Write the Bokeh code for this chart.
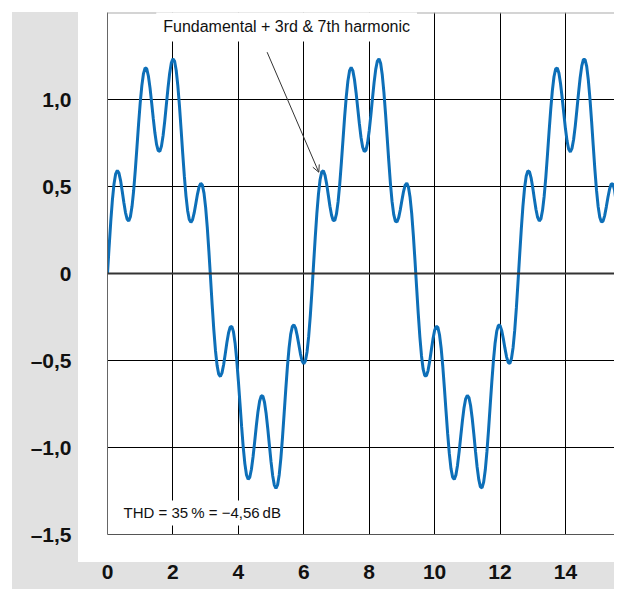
from bokeh.plotting import figure
from bokeh.models import Span, Label, Arrow, OpenHead, FixedTicker, ColumnDataSource
from bokeh.embed import file_html
from bokeh.resources import INLINE

# ---- data ----
x_ticks = [0, 2, 4, 6, 8, 10, 12, 14]
y_ticks = [-1.5, -1.0, -0.5, 0, 0.5, 1.0]
y_tick_labels = ["\u20131,5", "\u20131,0", "\u20130,5", "0", "0,5", "1,0"]

wave_step = 0.05  # sample spacing along x
# waveform values in thousandths at x = 0, 0.05, 0.10, ... 15.75
wave_milli = [
    0, 155, 299, 423, 516, 573, 592, 577, 534, 473, 408, 350, 312, 302, 326, 386, 477, 594, 725, 858,
    980, 1080, 1149, 1182, 1176, 1135, 1067, 981, 890, 807, 742, 706, 702, 732, 793, 876, 972, 1067, 1150, 1209,
    1234, 1221, 1168, 1080, 963, 829, 689, 558, 445, 361, 310, 294, 309, 348, 401, 455, 498, 518, 508, 462,
    380, 266, 127, -26, -180, -322, -441, -528, -579, -592, -571, -524, -462, -397, -342, -308, -304, -334, -399, -495,
    -615, -747, -879, -999, -1094, -1158, -1183, -1171, -1125, -1053, -966, -875, -794, -734, -703, -705, -740, -805, -892, -988,
    -1083, -1162, -1216, -1235, -1215, -1156, -1062, -942, -805, -666, -537, -429, -350, -305, -295, -314, -357, -410, -463, -503,
    -519, -503, -451, -363, -244, -102, 52, 205, 344, 458, 540, 584, 591, 565, 515, 451, 387, 335, 305, 306,
    342, 413, 514, 637, 770, 901, 1017, 1107, 1165, 1184, 1166, 1115, 1039, 950, 861, 783, 727, 701, 708, 749,
    819, 907, 1005, 1097, 1173, 1221, 1234, 1208, 1142, 1043, 919, 782, 644, 517, 413, 340, 301, 296, 320, 365,
    420, 471, 508, 519, 497, 438, 345, 221, 76, -78, -230, -365, -474, -550, -587, -588, -558, -505, -440, -377,
    -328, -303, -310, -352, -428, -533, -659, -792, -922, -1034, -1120, -1170, -1183, -1159, -1103, -1025, -935, -847, -771, -720,
    -700, -713, -759, -832, -923, -1021, -1112, -1183, -1226, -1232, -1199, -1128, -1024, -897, -758, -621, -498, -399, -331, -298,
    -298, -327, -374, -429, -479, -511, -517, -489, -425, -326, -198, -50, 104, 254, 386, 490, 559, 590, 585, 550,
    494, 429, 368, 322, 302, 314, 363, 444, 553, 681, 815, 942, 1051, 1131, 1175, 1182, 1152, 1092, 1010, 920,
    833, 761, 714, 699, 719, 770, 847, 940, 1037, 1125, 1193, 1230, 1230, 1190, 1112, 1004, 874, 735, 599, 479,
    385, 323, 296, 301, 333, 383, 438, 486, 515, 515, 481, 411, 306, 174, 25, -130,
]
annotation_text = "Fundamental + 3rd & 7th harmonic"
thd_text = "THD = 35\u2009% = \u22124,56\u2009dB"

wave_x = [round(i * wave_step, 2) for i in range(len(wave_milli))]
wave_y = [v / 1000 for v in wave_milli]

# ---- figure ----
GRAY = "#e1e1e1"
page_styles = {
    "background-color": "white",
    "background-image": f"linear-gradient({GRAY}, {GRAY}), linear-gradient({GRAY}, {GRAY})",
    "background-position": "12px 12px, 12px 562px",
    "background-size": "66px 577px, 602px 27px",
    "background-repeat": "no-repeat",
}

p = figure(frame_width=507, frame_height=522, x_range=(0, 15.5), y_range=(-1.5, 1.5),
           output_backend="svg", toolbar_location=None,
           min_border_left=107, min_border_right=0, min_border_top=12, min_border_bottom=55,
           styles=page_styles)
p.outline_line_color = None
p.background_fill_color = "white"
p.border_fill_color = None

p.xaxis.ticker = FixedTicker(ticks=x_ticks)
p.yaxis.ticker = FixedTicker(ticks=y_ticks)
p.yaxis.major_label_overrides = dict(zip(y_ticks, y_tick_labels))
for ax in (p.xaxis, p.yaxis):
    ax.major_tick_in = 0
    ax.major_tick_out = 0
    ax.minor_tick_in = 0
    ax.minor_tick_out = 0
    ax.major_label_text_font = "Liberation Sans"
    ax.major_label_text_font_style = "bold"
    ax.major_label_text_font_size = "21px"
    ax.major_label_text_color = "#111111"
p.xaxis.major_label_standoff = 30
p.yaxis.major_label_standoff = 36
p.xaxis.axis_line_color = "#555555"
p.yaxis.axis_line_color = "#666666"
p.grid.grid_line_color = "black"
p.grid.grid_line_width = 1

p.add_layout(Span(location=1.5, dimension="width", line_color="#aaaaaa", line_width=2))
p.add_layout(Span(location=0, dimension="width", line_color="#333333", line_width=2))

src = ColumnDataSource(dict(x=wave_x, y=wave_y))
p.line("x", "y", source=src, line_color="#0d6fb8", line_width=3)

p.add_layout(Label(x=1.49, y=1.422, text=annotation_text, text_font="Liberation Sans",
                   text_font_size="16px", text_baseline="middle", text_align="left", text_color="#111111",
                   background_fill_color="white", background_fill_alpha=1.0, padding=7))
p.add_layout(Label(x=0.37, y=-1.376, text=thd_text, text_font="Liberation Sans",
                   text_font_size="15px", text_baseline="middle", text_align="left", text_color="#111111",
                   background_fill_color="white", background_fill_alpha=1.0, padding=4))
p.add_layout(Arrow(x_start=4.88, y_start=1.272, x_end=6.46, y_end=0.582, line_color="#333333", line_width=1,
                   end=OpenHead(size=7, line_color="#333333", line_width=1)))

open("out.html", "w").write(file_html(p, INLINE))
